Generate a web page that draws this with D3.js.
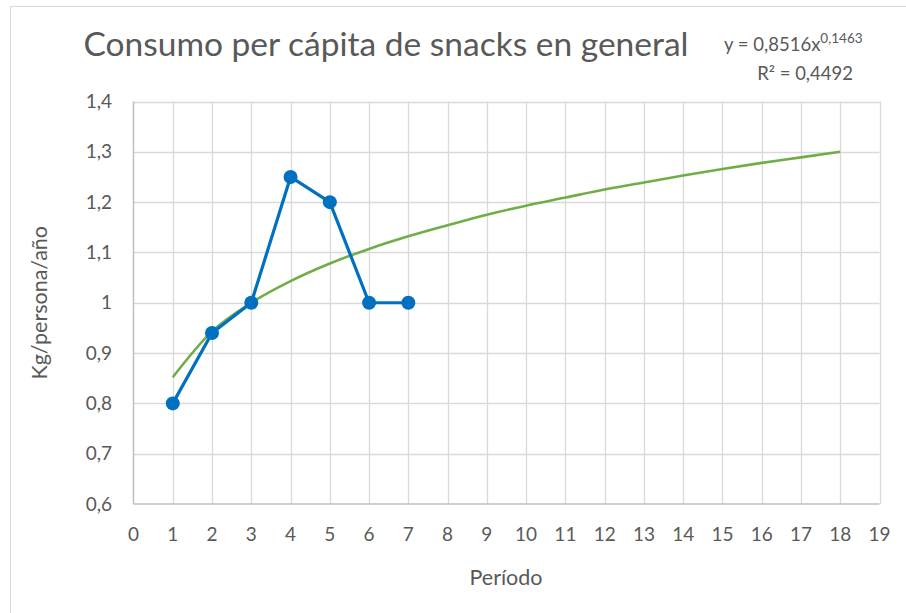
<!DOCTYPE html>
<html>
<head>
<meta charset="utf-8">
<script src="https://cdn.jsdelivr.net/npm/d3@7"></script>
<style>
  body { margin: 0; background: #fff; }
  text { font-family: Lato, "Open Sans", sans-serif; fill: #595959; }
</style>
</head>
<body>
<svg id="chart" width="906" height="613"></svg>
<script>
// data
const periods = [1, 2, 3, 4, 5, 6, 7];
const consumo = [0.8, 0.94, 1.0, 1.25, 1.2, 1.0, 1.0];
// power trend line, values read at each period
const trendX = [1, 2, 3, 4, 5, 6, 7, 8, 9, 10, 11, 12, 13, 14, 15, 16, 17, 18];
const trendY = [0.852, 0.943, 1.0, 1.043, 1.078, 1.107, 1.132, 1.154, 1.175, 1.193,
                1.209, 1.225, 1.239, 1.253, 1.266, 1.278, 1.289, 1.3];
const xTicks = d3.range(0, 20);
const yTicks = [0.6, 0.7, 0.8, 0.9, 1.0, 1.1, 1.2, 1.3, 1.4];

const svg = d3.select('#chart');
const fmt = d => String(+d.toFixed(1)).replace('.', ',');

// outer chart border (cropped at right/bottom)
svg.append('rect')
    .attr('x', 10.5).attr('y', 6.5)
    .attr('width', 1000).attr('height', 1000)
    .attr('fill', 'none').attr('stroke', '#d9d9d9');

const x = d3.scaleLinear().domain([0, 19]).range([133.5, 879.5]);
const y = d3.scaleLinear().domain([0.6, 1.4]).range([504, 101.5]);

const g = svg.append('g');

// gridlines
g.selectAll('.vgrid').data(xTicks.slice(1)).join('line')
    .attr('x1', d => Math.round(x(d)) + 0.5).attr('x2', d => Math.round(x(d)) + 0.5)
    .attr('y1', y(1.4)).attr('y2', y(0.6))
    .attr('stroke', '#d9d9d9').attr('stroke-width', 1.3);
g.selectAll('.hgrid').data(yTicks.slice(1)).join('line')
    .attr('x1', x(0)).attr('x2', x(19))
    .attr('y1', d => Math.round(y(d)) + 0.5).attr('y2', d => Math.round(y(d)) + 0.5)
    .attr('stroke', '#d9d9d9').attr('stroke-width', 1.3);

// axis lines
g.append('line').attr('x1', x(0)).attr('x2', x(0)).attr('y1', y(1.4)).attr('y2', y(0.6))
    .attr('stroke', '#bfbfbf').attr('stroke-width', 1.5);
g.append('line').attr('x1', x(0)).attr('x2', x(19)).attr('y1', y(0.6)).attr('y2', y(0.6))
    .attr('stroke', '#bfbfbf').attr('stroke-width', 1.5);

// tick labels
g.selectAll('.xl').data(xTicks).join('text')
    .attr('x', d => x(d)).attr('y', 541)
    .attr('text-anchor', 'middle').style('font-size', '19px')
    .text(d => d);
g.selectAll('.yl').data(yTicks).join('text')
    .attr('x', 112).attr('y', d => y(d) + 6.5)
    .attr('text-anchor', 'end').style('font-size', '19px')
    .text(fmt);

// axis titles
svg.append('text').attr('x', 506).attr('y', 585)
    .attr('text-anchor', 'middle').style('font-size', '21.5px')
    .text('Período');
svg.append('text')
    .attr('transform', `translate(47, ${y(1.0)}) rotate(-90)`)
    .attr('text-anchor', 'middle').style('font-size', '21.5px')
    .text('Kg/persona/año');

// title
svg.append('text').attr('x', 386).attr('y', 56)
    .attr('text-anchor', 'middle').style('font-size', '33.5px')
    .text('Consumo per cápita de snacks en general');

// trend line
const trend = d3.line().x((d, i) => x(trendX[i])).y(d => y(d)).curve(d3.curveMonotoneX);
g.append('path').datum(trendY)
    .attr('d', trend)
    .attr('fill', 'none').attr('stroke', '#70ad47').attr('stroke-width', 2.6);

// series
const line = d3.line().x((d, i) => x(periods[i])).y(d => y(d));
g.append('path').datum(consumo)
    .attr('d', line)
    .attr('fill', 'none').attr('stroke', '#0070c0').attr('stroke-width', 3.2)
    .attr('stroke-linejoin', 'round');
g.selectAll('.pt').data(consumo).join('circle')
    .attr('cx', (d, i) => x(periods[i])).attr('cy', d => y(d))
    .attr('r', 7).attr('fill', '#0070c0');

// trend equation
const eq = svg.append('text').attr('x', 724).attr('y', 51).style('font-size', '18.5px');
eq.append('tspan').text('y = 0,8516x');
eq.append('tspan').attr('dy', -8).style('font-size', '13.5px').text('0,1463');
svg.append('text').attr('x', 853).attr('y', 80)
    .attr('text-anchor', 'end').style('font-size', '18.5px')
    .text('R² = 0,4492');
</script>
</body>
</html>
